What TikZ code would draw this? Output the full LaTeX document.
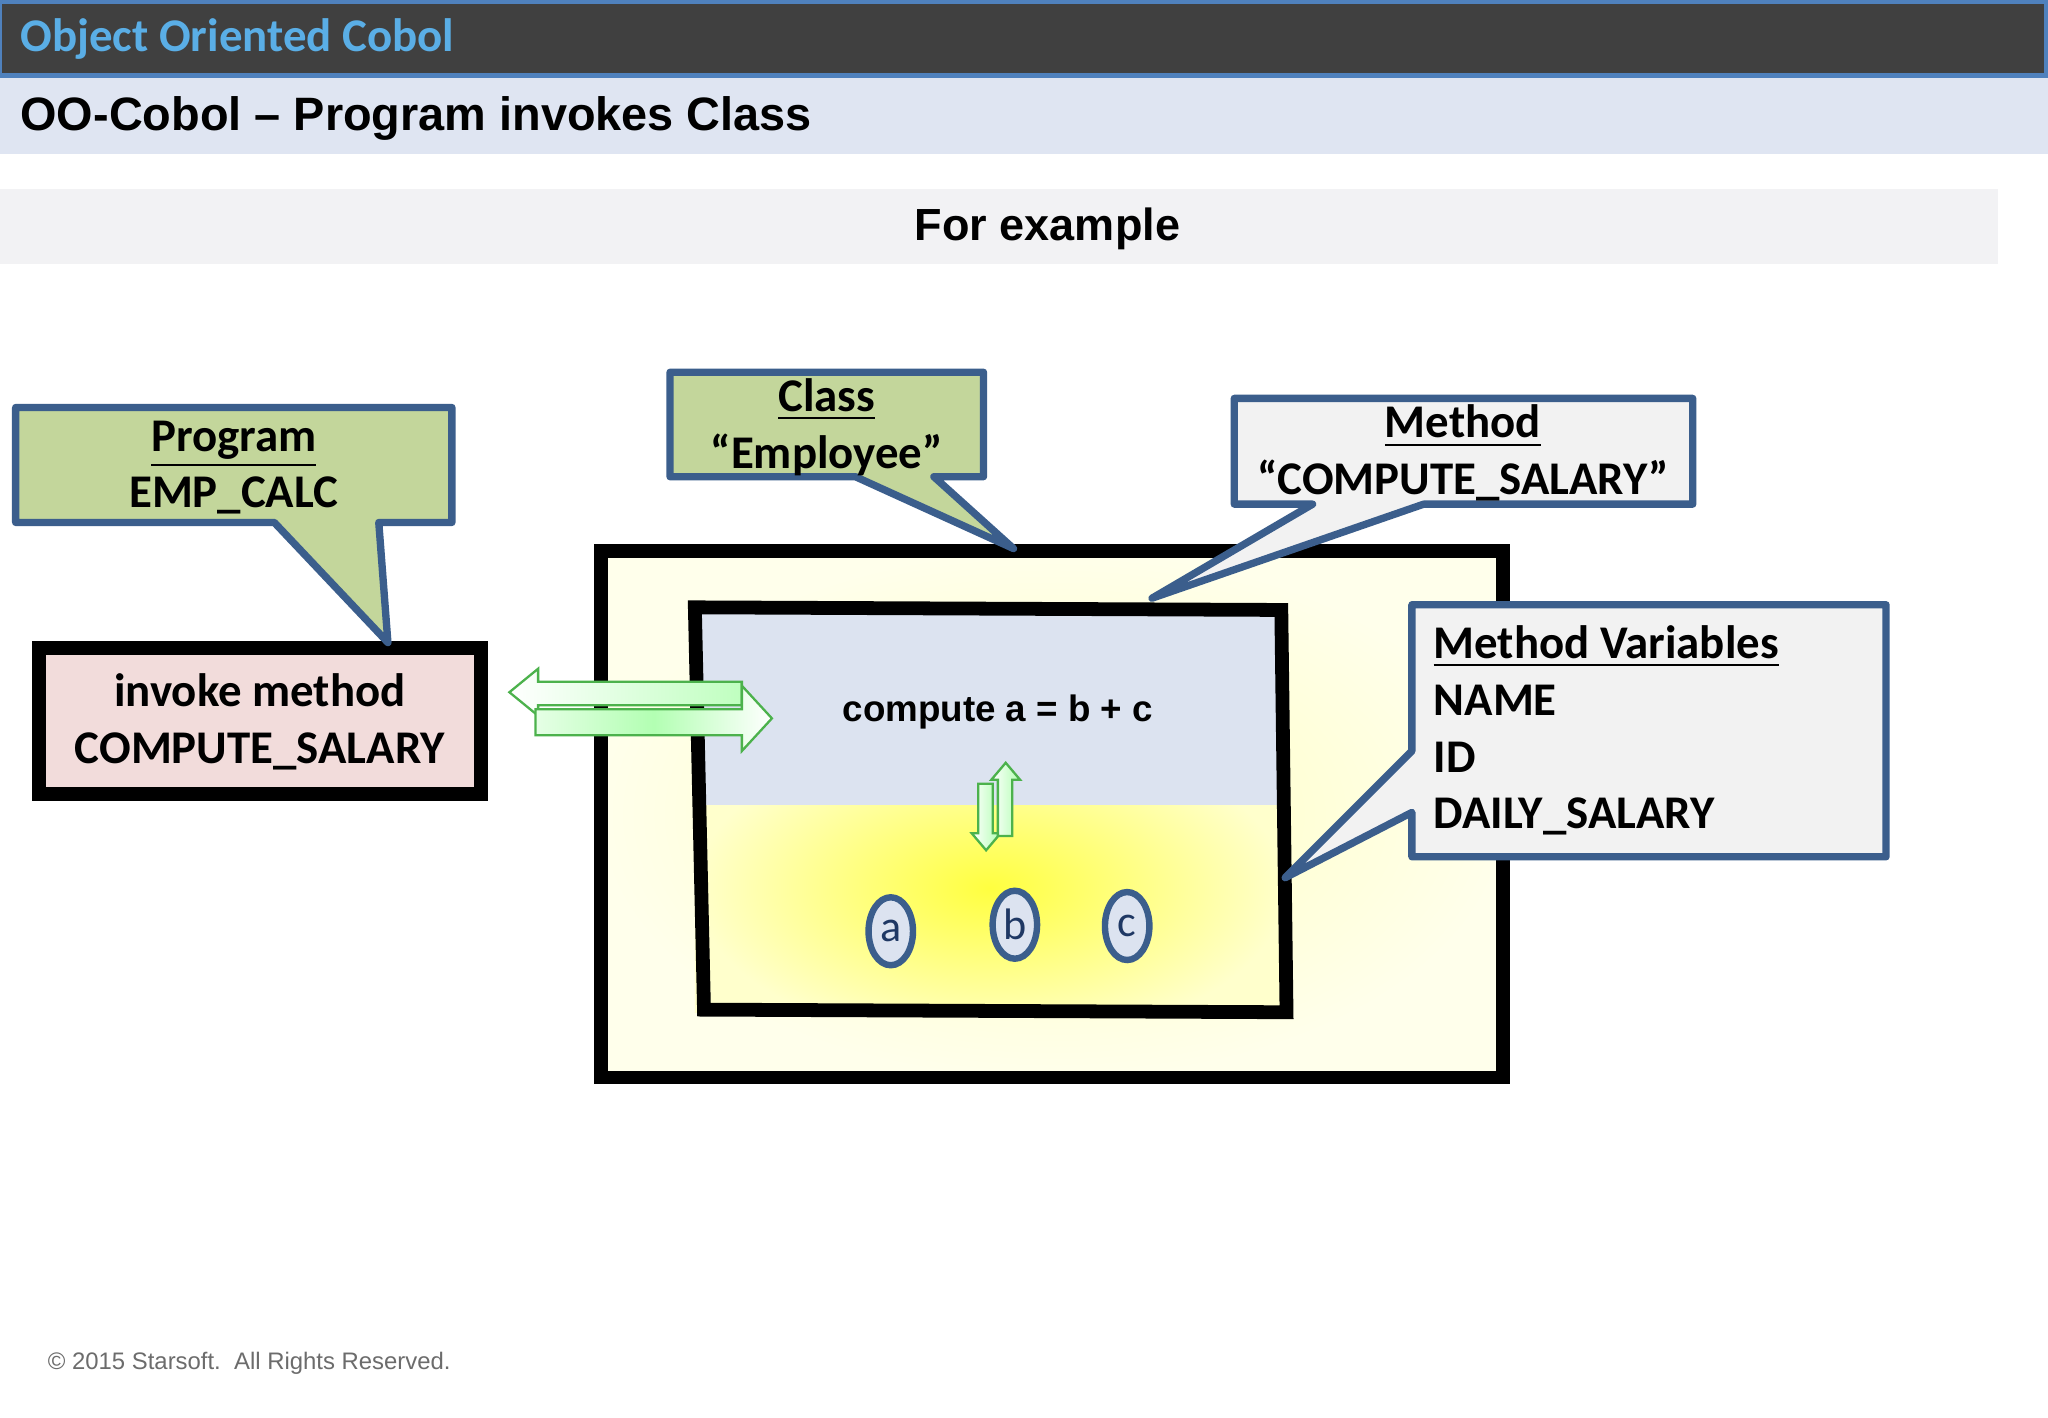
\documentclass[tikz,border=0pt]{standalone}
\usepackage{fontspec}
\setmainfont{Carlito}
\newfontfamily\arialfont{Liberation Sans}
\usetikzlibrary{positioning, calc, shapes.geometric}
\definecolor{barGray}{HTML}{404040}
\definecolor{barBlue}{HTML}{4F81BD}
\definecolor{titleBlue}{HTML}{5AAEE6}
\definecolor{bandBlue}{HTML}{DFE5F2}
\definecolor{bandGray}{HTML}{F2F2F4}
\definecolor{calloutGreen}{HTML}{C3D69B}
\definecolor{calloutGray}{HTML}{F2F2F2}
\definecolor{calloutEdge}{HTML}{3B5E8C}
\definecolor{invokePink}{HTML}{F2DCDB}
\definecolor{methodBlue}{HTML}{DCE3F0}
\definecolor{varText}{HTML}{1F3864}

\tikzset{
	callout/.style={draw=calloutEdge, line width=1.6pt, line join=round},
	calltext/.style={font=\fontsize{10.2}{12.4}\selectfont\bfseries, inner sep=0pt},
	bigbox/.style={draw=black, line width=3pt},
	varnode/.style={ellipse, draw=calloutEdge, line width=1.4pt, fill=methodBlue,
		minimum width=0.34cm, minimum height=0.52cm, inner sep=0pt,
		font=\fontsize{9.6}{11}\selectfont, text=varText},
	flow/.style={draw=green!40!gray, line width=0.5pt},
}

\begin{document}
\begin{tikzpicture}[x=0.01cm, y=-0.01cm]
	\useasboundingbox (0,0) rectangle (1568,1085);
	\fill[white] (0,0) rectangle (1568,1085);

	% header bands
	\draw[fill=barGray, draw=barBlue, line width=1pt] (0,1) rectangle (1567,58);
	\node[anchor=west, inner sep=0pt, text=titleBlue, font=\fontsize{10.2}{12}\selectfont\bfseries] (title) at (15,30) {Object Oriented Cobol};
	\fill[bandBlue] (0,60) rectangle (1568,118);
	\node[anchor=west, inner sep=0pt, font=\arialfont\fontsize{10.2}{12}\selectfont\bfseries] (subtitle) at (15,91) {OO-Cobol \textendash{} Program invokes Class};
	\fill[bandGray] (0,145) rectangle (1530,202);
	\node[font=\arialfont\fontsize{9.8}{12}\selectfont\bfseries] (example) at (802,175) {For example};

	% class box
	\shade[inner color=yellow!25, outer color=yellow!8] (460,422) rectangle (1151,825);
	\draw[bigbox] (460,422) rectangle (1151,825);
	\node[inner sep=0pt] (classbox) at (805,623) {};

	% method box
	\fill[methodBlue] (532,465) -- (984,465) -- (984,617) -- (532,617) -- cycle;
	\begin{scope}
		\clip (532,617) rectangle (984,775);
		\shade[inner color=yellow!75, outer color=yellow!20] (532,560) rectangle (984,800);
	\end{scope}
	\draw[bigbox] (532,465) -- (981,467) -- (985,775) -- (539,773) -- cycle;
	\node[font=\arialfont\fontsize{8}{9}\selectfont\bfseries] (compute) at (764,545) {compute a = b + c};

	\node[varnode] (a) at (682,713) {a};
	\node[varnode] (b) at (777,708) {b};
	\node[varnode] (c) at (863,709) {c};

	% small up/down arrows
	\shade[left color=white, right color=green!30, flow] (749,600) -- (760,600) -- (760,638) -- (766,638) -- (755,651) -- (744,638) -- (749,638) -- cycle;
	\shade[left color=white, right color=green!30, flow] (764,640) -- (775,640) -- (775,597) -- (781,597) -- (770,584) -- (759,597) -- (764,597) -- cycle;

	% invoke arrows
	\shade[left color=white, right color=green!25, flow] (390,530) -- (412,512) -- (412,522) -- (568,522) -- (568,540) -- (412,540) -- (412,548) -- cycle;
	\shade[left color=green!10, right color=white, middle color=green!30, flow] (410,543) -- (568,543) -- (568,525) -- (591,550) -- (568,575) -- (568,563) -- (410,563) -- cycle;

	% invoke box
	\draw[bigbox, fill=invokePink] (30,496) rectangle (368,608);
	\node[calltext, align=center] (invoke) at (199,553) {invoke method\\COMPUTE\_SALARY};

	% program callout
	\coordinate (progtip) at (297,492);
	\draw[callout, fill=calloutGreen] (12,312) -- (346,312) -- (346,400) -- (290,400) -- (progtip) -- (210,400) -- (12,400) -- cycle;
	\node[calltext, align=center] (program) at (179,358) {\underline{Program}\\EMP\_CALC};

	% class callout
	\coordinate (classtip) at (776,420);
	\draw[callout, fill=calloutGreen] (513,285) -- (753,285) -- (753,365) -- (715,365) -- (classtip) -- (655,365) -- (513,365) -- cycle;
	\node[calltext, align=center] (class) at (633,327) {\underline{Class}\\``Employee''};

	% method callout
	\coordinate (methodtip) at (882,458);
	\draw[callout, fill=calloutGray] (945,305) -- (1296,305) -- (1296,386) -- (1090,386) -- (methodtip) -- (1005,386) -- (945,386) -- cycle;
	\node[calltext, align=center] (method) at (1120,347) {\underline{Method}\\``COMPUTE\_SALARY''};

	% variables callout
	\coordinate (vartip) at (984,672);
	\draw[callout, fill=calloutGray] (1081,463) -- (1444,463) -- (1444,656) -- (1081,656) -- (1081,622) -- (vartip) -- (1081,575) -- cycle;
	\node[calltext, align=left, anchor=north west] (vars) at (1097,478) {\underline{Method Variables}\\NAME\\ID\\DAILY\_SALARY};

	% footer
	\node[anchor=west, inner sep=0pt, text=gray!85!black, font=\arialfont\fontsize{5.2}{6}\selectfont] (footer) at (36,1044) {\textcopyright{} 2015 Starsoft.\ \ All Rights Reserved.};
\end{tikzpicture}
\end{document}
